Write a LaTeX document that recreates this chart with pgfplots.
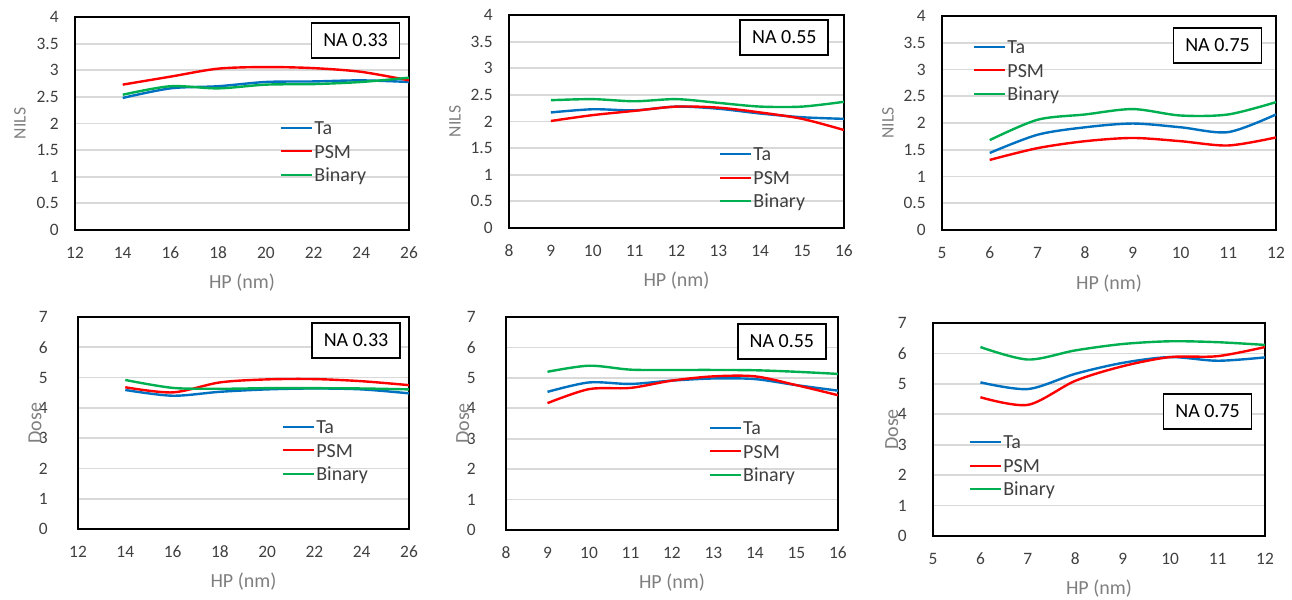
\documentclass[border=0pt]{standalone}
\usepackage{fontspec}
\setmainfont{Carlito}
\usepackage{pgfplots}
\pgfplotsset{compat=1.18}
\definecolor{taC}{HTML}{0070C0}
\definecolor{psmC}{HTML}{FF0000}
\definecolor{binC}{HTML}{00B050}
\definecolor{gridC}{HTML}{D9D9D9}
\definecolor{tickC}{HTML}{404040}
\definecolor{labC}{HTML}{7F7F7F}

\pgfplotsset{
  panel/.style={scale only axis,anchor=south west,
    axis line style={black,line width=0.75pt},
    ymajorgrids,grid style={gridC,line width=0.9pt},
    major tick length=0pt,
    tick label style={font=\fontsize{8.7}{10}\selectfont,text=tickC,inner sep=0pt},
    /pgf/number format/assume math mode=true,
    xticklabel style={anchor=center,yshift=-11.5pt},
    yticklabel style={anchor=east,xshift=-8pt},
    label style={font=\fontsize{10}{12}\selectfont,text=labC},
    xlabel={HP (nm)},
    xlabel style={at={(rel axis cs:0.5,-0.249)},anchor=center},
    legend style={draw=none,fill=none,inner sep=0pt,font=\fontsize{10}{12}\selectfont,text=tickC,
      cells={anchor=west},nodes={inner xsep=0.7pt,inner ysep=0pt,text height=7pt,text depth=2pt},
      row sep=2.75pt,anchor=north west},
    legend image code/.code={\draw[#1,line width=1pt] (0pt,0.9pt) -- (15.3pt,0.9pt);},
    every axis plot/.append style={line width=1.2pt,smooth,no markers},
  },
  nils/.style={ymin=0,ymax=4,ytick={0,0.5,1,1.5,2,2.5,3,3.5,4},ylabel={NILS},
    ylabel style={font=\fontsize{8.8}{10}\selectfont}},
  dose/.style={ymin=0,ymax=7,ytick={0,1,2,3,4,5,6,7},ylabel={Dose}},
}
\tikzset{nabox/.style={draw=black,fill=white,line width=0.9pt,minimum width=44pt,minimum height=17.5pt,
    inner sep=0pt,font=\fontsize{10}{12}\selectfont}}

\begin{document}
\begin{tikzpicture}
\useasboundingbox (0,0) rectangle (646pt,300pt);

% NILS, NA 0.33
\begin{axis}[panel,nils,at={(37.5pt,185pt)},width=167pt,height=106.5pt,
  xmin=12,xmax=26,xtick={12,14,16,18,20,22,24,26},
  ylabel style={at={(rel axis cs:-0.165,0.5)},anchor=center},
  legend style={at={(0.614,0.515)}}]
\addplot[taC] coordinates {(14,2.48)(16,2.66)(18,2.70)(20,2.78)(22,2.79)(24,2.81)(26,2.78)};
\addlegendentry{Ta}
\addplot[psmC] coordinates {(14,2.73)(16,2.88)(18,3.03)(20,3.06)(22,3.04)(24,2.97)(26,2.81)};
\addlegendentry{PSM}
\addplot[binC] coordinates {(14,2.54)(16,2.70)(18,2.66)(20,2.73)(22,2.74)(24,2.78)(26,2.86)};
\addlegendentry{Binary}
\node[nabox] at (rel axis cs:0.84,0.89) {NA 0.33};
\end{axis}

% NILS, NA 0.55
\begin{axis}[panel,nils,at={(254.5pt,186pt)},width=167.5pt,height=106.5pt,
  xmin=8,xmax=16,xtick={8,9,10,11,12,13,14,15,16},
  ylabel style={at={(rel axis cs:-0.161,0.5)},anchor=center},
  legend style={at={(0.627,0.383)}}]
\addplot[taC] coordinates {(9,2.17)(10,2.23)(11,2.21)(12,2.28)(13,2.24)(14,2.15)(15,2.08)(16,2.05)};
\addlegendentry{Ta}
\addplot[psmC] coordinates {(9,2.01)(10,2.12)(11,2.20)(12,2.28)(13,2.26)(14,2.17)(15,2.05)(16,1.84)};
\addlegendentry{PSM}
\addplot[binC] coordinates {(9,2.40)(10,2.42)(11,2.38)(12,2.42)(13,2.35)(14,2.28)(15,2.28)(16,2.37)};
\addlegendentry{Binary}
\node[nabox] at (rel axis cs:0.822,0.894) {NA 0.55};
\end{axis}

% NILS, NA 0.75
\begin{axis}[panel,nils,at={(471pt,185pt)},width=167pt,height=107pt,
  xmin=5,xmax=12,xtick={5,6,7,8,9,10,11,12},
  ylabel style={at={(rel axis cs:-0.162,0.5)},anchor=center},
  legend style={at={(0.093,0.891)}}]
\addplot[taC] coordinates {(6,1.44)(7,1.78)(8,1.92)(9,1.99)(10,1.92)(11,1.83)(12,2.16)};
\addlegendentry{Ta}
\addplot[psmC] coordinates {(6,1.31)(7,1.53)(8,1.66)(9,1.72)(10,1.66)(11,1.58)(12,1.73)};
\addlegendentry{PSM}
\addplot[binC] coordinates {(6,1.68)(7,2.06)(8,2.16)(9,2.26)(10,2.14)(11,2.16)(12,2.39)};
\addlegendentry{Binary}
\node[nabox] at (rel axis cs:0.825,0.862) {NA 0.75};
\end{axis}

% Dose, NA 0.33
\begin{axis}[panel,dose,at={(39pt,35.5pt)},width=165.5pt,height=106pt,
  xmin=12,xmax=26,xtick={12,14,16,18,20,22,24,26},
  yticklabel style={xshift=-7pt},
  ylabel style={at={(rel axis cs:-0.13,0.5)},anchor=center},
  legend style={at={(0.616,0.517)}}]
\addplot[taC] coordinates {(14,4.59)(16,4.40)(18,4.53)(20,4.61)(22,4.64)(24,4.61)(26,4.48)};
\addlegendentry{Ta}
\addplot[psmC] coordinates {(14,4.68)(16,4.51)(18,4.84)(20,4.94)(22,4.95)(24,4.88)(26,4.75)};
\addlegendentry{PSM}
\addplot[binC] coordinates {(14,4.92)(16,4.66)(18,4.63)(20,4.65)(22,4.65)(24,4.64)(26,4.61)};
\addlegendentry{Binary}
\node[nabox] at (rel axis cs:0.84,0.889) {NA 0.33};
\end{axis}

% Dose, NA 0.55
\begin{axis}[panel,dose,at={(253pt,35pt)},width=166pt,height=106.5pt,
  xmin=8,xmax=16,xtick={8,9,10,11,12,13,14,15,16},
  yticklabel style={xshift=-7pt},
  ylabel style={at={(rel axis cs:-0.13,0.5)},anchor=center},
  legend style={at={(0.611,0.515)}}]
\addplot[taC] coordinates {(9,4.54)(10,4.85)(11,4.80)(12,4.91)(13,4.98)(14,4.96)(15,4.76)(16,4.58)};
\addlegendentry{Ta}
\addplot[psmC] coordinates {(9,4.17)(10,4.63)(11,4.67)(12,4.91)(13,5.05)(14,5.05)(15,4.76)(16,4.43)};
\addlegendentry{PSM}
\addplot[binC] coordinates {(9,5.20)(10,5.40)(11,5.27)(12,5.26)(13,5.26)(14,5.25)(15,5.20)(16,5.13)};
\addlegendentry{Binary}
\node[nabox] at (rel axis cs:0.831,0.885) {NA 0.55};
\end{axis}

% Dose, NA 0.75
\begin{axis}[panel,dose,at={(466.5pt,32pt)},width=166pt,height=106.5pt,
  xmin=5,xmax=12,xtick={5,6,7,8,9,10,11,12},
  yticklabel style={xshift=-5pt},
  ylabel style={at={(rel axis cs:-0.124,0.5)},anchor=center},
  legend style={at={(0.108,0.477)}}]
\addplot[taC] coordinates {(6,5.05)(7,4.83)(8,5.33)(9,5.69)(10,5.88)(11,5.76)(12,5.87)};
\addlegendentry{Ta}
\addplot[psmC] coordinates {(6,4.56)(7,4.31)(8,5.10)(9,5.58)(10,5.88)(11,5.91)(12,6.21)};
\addlegendentry{PSM}
\addplot[binC] coordinates {(6,6.21)(7,5.80)(8,6.10)(9,6.31)(10,6.40)(11,6.37)(12,6.28)};
\addlegendentry{Binary}
\node[nabox] at (rel axis cs:0.827,0.585) {NA 0.75};
\end{axis}
\end{tikzpicture}
\end{document}
